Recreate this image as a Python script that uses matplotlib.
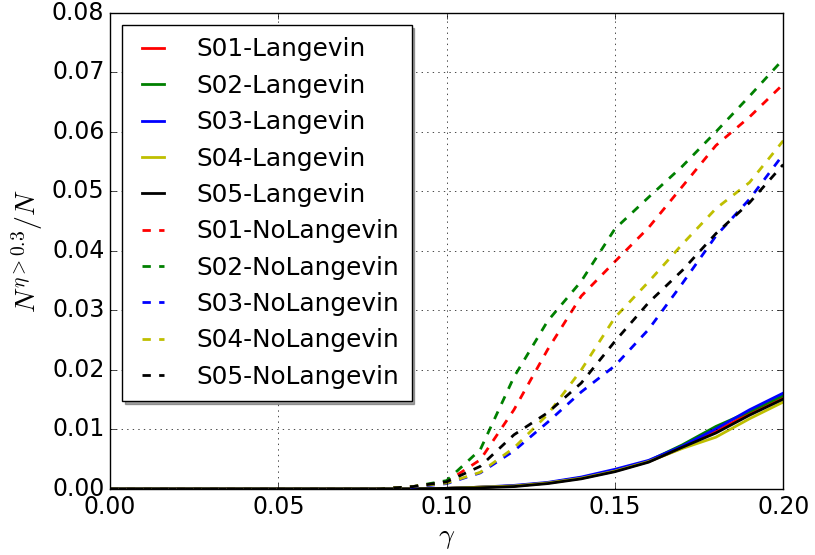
import numpy as np
import matplotlib
matplotlib.use('Agg')
import matplotlib.pyplot as plt

# estilo clásico de matplotlib (ticks hacia adentro, grilla punteada)
plt.style.use('classic')

# eje x: parámetro gamma
gamma = [0.00, 0.01, 0.02, 0.03, 0.04, 0.05, 0.06, 0.07, 0.08, 0.09, 0.10,
         0.11, 0.12, 0.13, 0.14, 0.15, 0.16, 0.17, 0.18, 0.19, 0.20]

# fracción N^{eta>0.3}/N con termostato de Langevin
s01_lang = [0, 0, 0, 0, 0, 0, 0, 0, 0, 0, 0.0001,
            0.0003, 0.0005, 0.0010, 0.0018, 0.0030, 0.0046, 0.0069, 0.0097, 0.0127, 0.0154]
s02_lang = [0, 0, 0, 0, 0, 0, 0, 0, 0, 0, 0.0001,
            0.0003, 0.0005, 0.0010, 0.0019, 0.0031, 0.0047, 0.0074, 0.0105, 0.0130, 0.0157]
s03_lang = [0, 0, 0, 0, 0, 0, 0, 0, 0, 0, 0.0001,
            0.0003, 0.0006, 0.0011, 0.0020, 0.0033, 0.0048, 0.0072, 0.0101, 0.0133, 0.0161]
s04_lang = [0, 0, 0, 0, 0, 0, 0, 0, 0, 0, 0.0001,
            0.0003, 0.0005, 0.0010, 0.0018, 0.0030, 0.0046, 0.0068, 0.0087, 0.0118, 0.0146]
s05_lang = [0, 0, 0, 0, 0, 0, 0, 0, 0, 0, 0.0001,
            0.0002, 0.0004, 0.0009, 0.0017, 0.0029, 0.0045, 0.0070, 0.0094, 0.0124, 0.0151]

# misma fracción sin termostato de Langevin
s01_nolang = [0, 0, 0, 0, 0, 0, 0, 0, 0, 0.0004, 0.0012,
              0.0049, 0.0133, 0.0234, 0.0324, 0.0382, 0.0439, 0.0508, 0.0577, 0.0625, 0.0680]
s02_nolang = [0, 0, 0, 0, 0, 0, 0, 0, 0, 0.0004, 0.0014,
              0.0066, 0.0188, 0.0282, 0.0349, 0.0437, 0.0490, 0.0542, 0.0600, 0.0660, 0.0722]
s03_nolang = [0, 0, 0, 0, 0, 0, 0, 0, 0, 0.0003, 0.0009,
              0.0027, 0.0064, 0.0112, 0.0163, 0.0207, 0.0268, 0.0345, 0.0425, 0.0487, 0.0562]
s04_nolang = [0, 0, 0, 0, 0, 0, 0, 0, 0, 0.0004, 0.0010,
              0.0028, 0.0069, 0.0125, 0.0200, 0.0288, 0.0348, 0.0411, 0.0471, 0.0515, 0.0585]
s05_nolang = [0, 0, 0, 0, 0, 0, 0, 0, 0, 0.0004, 0.0012,
              0.0038, 0.0091, 0.0128, 0.0178, 0.0248, 0.0313, 0.0367, 0.0429, 0.0481, 0.0545]

nombres  = ['S01', 'S02', 'S03', 'S04', 'S05']
colores  = ['r', 'g', 'b', 'y', 'k']
lang     = [s01_lang, s02_lang, s03_lang, s04_lang, s05_lang]
nolang   = [s01_nolang, s02_nolang, s03_nolang, s04_nolang, s05_nolang]

# figura y ejes
fig = plt.figure(figsize=(8.15, 5.55), dpi=100)
ax  = fig.add_axes([0.135, 0.119, 0.826, 0.858])

# curvas con Langevin (trazo continuo)
for nom, col, y in zip(nombres, colores, lang):
    ax.plot(gamma, y, color=col, ls='-', lw=2, label=nom + '-Langevin')

# curvas sin Langevin (trazo discontinuo)
for nom, col, y in zip(nombres, colores, nolang):
    ax.plot(gamma, y, color=col, ls='--', lw=2, label=nom + '-NoLangevin')

# límites, grilla y etiquetas
ax.set_xlim(0, 0.2)
ax.set_ylim(0, 0.08)
ax.grid(True)
ax.tick_params(labelsize=17)
ax.set_xlabel(r'$\gamma$', fontsize=20, labelpad=3)
ax.set_ylabel(r'$N^{\eta>0.3}/N$', fontsize=20)

ax.legend(loc='upper left', fontsize=17.8, shadow=True, handlelength=1.5,
          handletextpad=1.0, labelspacing=0.5, borderpad=0.5)

fig.savefig('out.png', dpi=100)
